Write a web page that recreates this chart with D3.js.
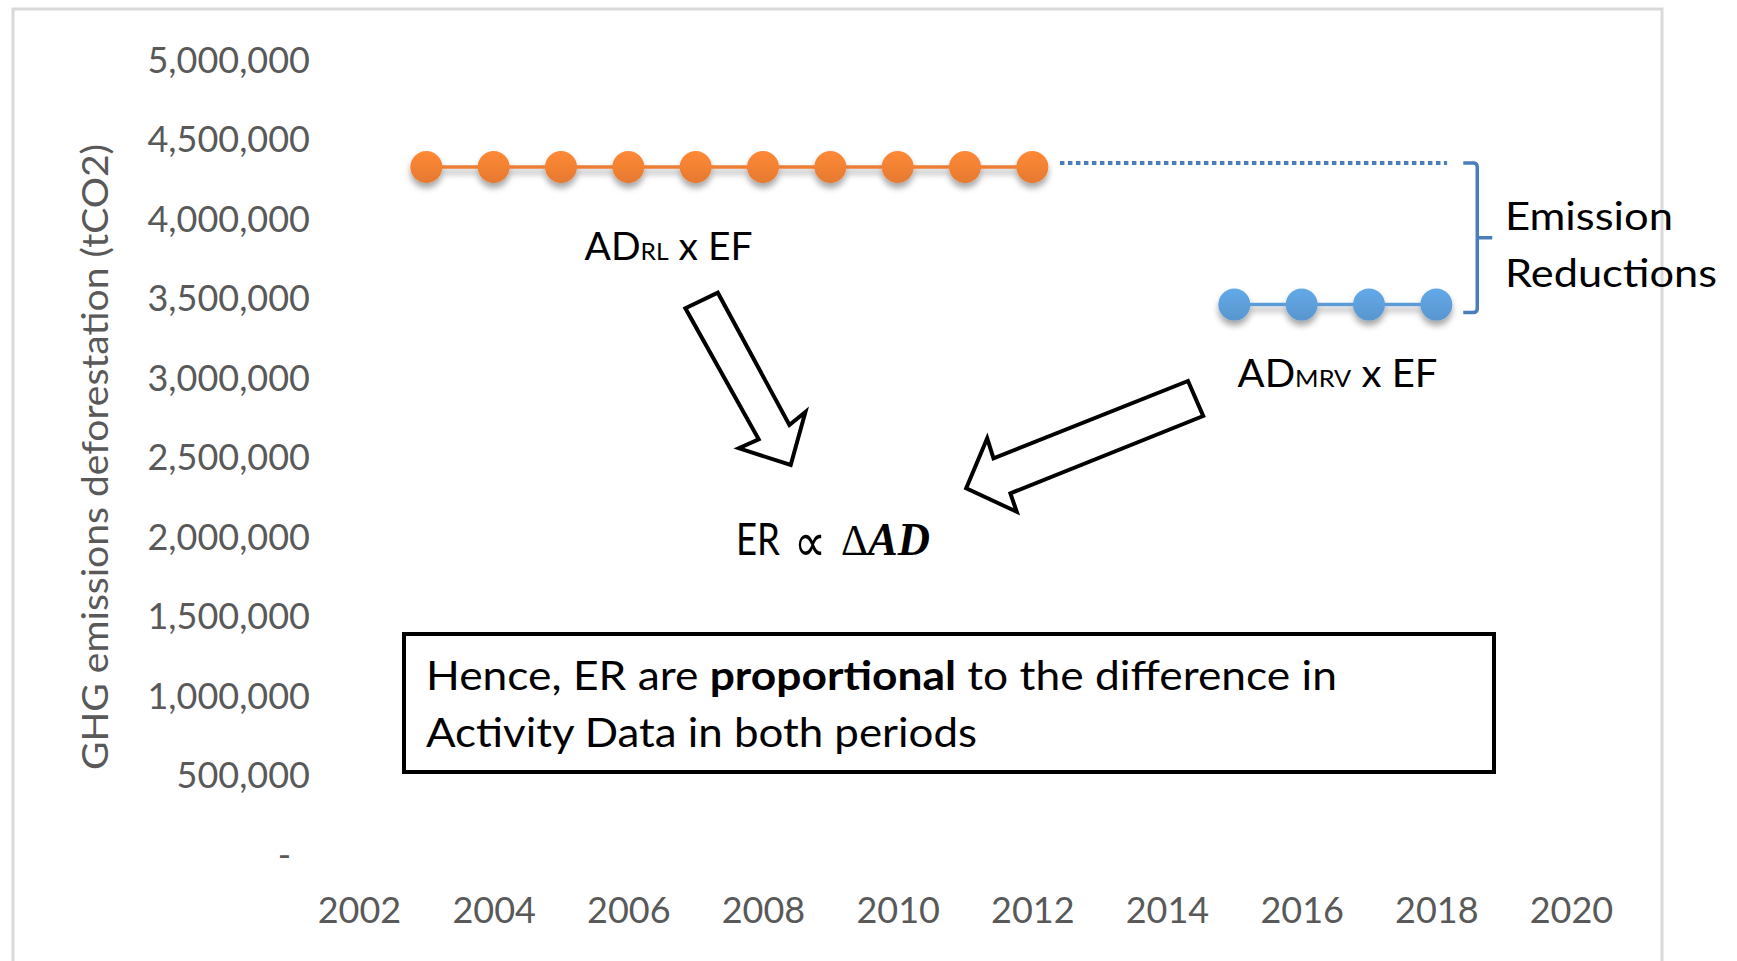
<!DOCTYPE html>
<html><head><meta charset="utf-8">
<script src="https://cdn.jsdelivr.net/npm/d3@7"></script>
<style>body{margin:0;background:#fff;} svg{display:block;}</style>
</head><body><svg id="chart" width="1737" height="961"></svg>
<script>
// ---- data ----
const xTickYears = [2002, 2004, 2006, 2008, 2010, 2012, 2014, 2016, 2018, 2020];
const yTickValues = [0, 500000, 1000000, 1500000, 2000000, 2500000, 3000000, 3500000, 4000000, 4500000, 5000000];
const rlYears = [2003, 2004, 2005, 2006, 2007, 2008, 2009, 2010, 2011, 2012];
const rlValues = [4330000, 4330000, 4330000, 4330000, 4330000, 4330000, 4330000, 4330000, 4330000, 4330000];
const mrvYears = [2015, 2016, 2017, 2018];
const mrvValues = [3465000, 3465000, 3465000, 3465000];
const yAxisTitle = "GHG emissions deforestation (tCO2)";
const boxLine1 = ["Hence, ER are ", "proportional", " to the difference in"];
const boxLine2 = "Activity Data in both periods";

// ---- setup ----
const svg = d3.select("#chart");
const W = 1737, H = 961;
const x = d3.scaleLinear().domain([2002, 2020]).range([359, 1571]);
const y = d3.scaleLinear().domain([0, 5000000]).range([855.5, 60.5]);
const FONT = "Lato, 'Open Sans', sans-serif";
const GRAY = "#595959";
const ORANGE = "#ED7D31", BLUE = "#5B9BD5", BRACE = "#4A7EBB";

const defs = svg.append("defs");
const f = defs.append("filter").attr("id", "shadow").attr("x", "-50%").attr("y", "-50%").attr("width", "200%").attr("height", "200%");
f.append("feDropShadow").attr("dx", 0).attr("dy", 5).attr("stdDeviation", 3).attr("flood-color", "#000").attr("flood-opacity", 0.35);
function grad(id, c) {
  const g = defs.append("linearGradient").attr("id", id).attr("x1", 0).attr("y1", 0).attr("x2", 0).attr("y2", 1);
  g.append("stop").attr("offset", "0%").attr("stop-color", d3.color(c).brighter(0.25));
  g.append("stop").attr("offset", "100%").attr("stop-color", d3.color(c).darker(0.1));
}
grad("gO", ORANGE); grad("gB", BLUE);

// background + outer border
svg.append("rect").attr("width", W).attr("height", H).attr("fill", "#fff");
svg.append("rect").attr("x", 13).attr("y", 9).attr("width", 1649).attr("height", 1000)
  .attr("fill", "none").attr("stroke", "#D9D9D9").attr("stroke-width", 3);

// ---- axes ----
const yAxis = d3.axisLeft(y).tickValues(yTickValues).tickSize(0).tickPadding(49)
  .tickFormat(d => d === 0 ? "-" : d3.format(",")(d));
const gy = svg.append("g").attr("transform", `translate(${x(2002)},0)`).call(yAxis);
gy.select(".domain").remove();
gy.selectAll("text").attr("font-family", FONT).attr("font-size", 36).attr("fill", GRAY)
  .attr("dx", d => d === 0 ? -19 : 0);

const xAxis = d3.axisBottom(x).tickValues(xTickYears).tickSize(0).tickPadding(42).tickFormat(d3.format("d"));
const gx = svg.append("g").attr("transform", `translate(0,${y(0)})`).call(xAxis);
gx.select(".domain").remove();
gx.selectAll("text").attr("font-family", FONT).attr("font-size", 36).attr("fill", GRAY);

svg.append("text").attr("transform", "translate(108,457) rotate(-90)")
  .attr("text-anchor", "middle").attr("font-family", FONT).attr("font-size", 37).attr("fill", GRAY)
  .attr("textLength", 626).attr("lengthAdjust", "spacingAndGlyphs").text(yAxisTitle);

// ---- series ----
function series(years, vals, color, gid) {
  const data = years.map((yr, i) => ({ yr, v: vals[i] }));
  const g = svg.append("g").attr("filter", "url(#shadow)");
  g.append("path").datum(data).attr("fill", "none").attr("stroke", color).attr("stroke-width", 3.5)
    .attr("d", d3.line().x(d => x(d.yr)).y(d => y(d.v)));
  g.selectAll("circle").data(data).join("circle")
    .attr("cx", d => x(d.yr)).attr("cy", d => y(d.v)).attr("r", 16).attr("fill", `url(#${gid})`);
}
series(rlYears, rlValues, ORANGE, "gO");
series(mrvYears, mrvValues, BLUE, "gB");

// ---- annotations ----
const rlLevel = y(rlValues[0]) - 4;
const mrvLevel = y(mrvValues[0]);
svg.append("line").attr("x1", x(2012.41)).attr("x2", x(2018.16)).attr("y1", rlLevel).attr("y2", rlLevel)
  .attr("stroke", BRACE).attr("stroke-width", 4).attr("stroke-dasharray", "4.5 3.5");

const bx0 = x(2018.4), bx1 = bx0 + 14, btop = rlLevel, bbot = mrvLevel + 8, bmid = (btop + bbot) / 2;
svg.append("path").attr("fill", "none").attr("stroke", BRACE).attr("stroke-width", 3.5).attr("stroke-linejoin", "round")
  .attr("d", `M${bx0},${btop} H${bx1 - 4} Q${bx1},${btop} ${bx1},${btop + 4} V${bbot - 4} Q${bx1},${bbot} ${bx1 - 4},${bbot} H${bx0} M${bx1},${bmid} H${bx1 + 15}`);

function label(tx, ty, parts, len, size) {
  const t = svg.append("text").attr("x", tx).attr("y", ty).attr("font-family", FONT).attr("fill", "#000")
    .attr("font-size", size);
  if (len) t.attr("textLength", len).attr("lengthAdjust", "spacingAndGlyphs");
  parts.forEach(p => t.append("tspan").attr("font-size", p.s || size).attr("font-weight", p.b ? "bold" : null).text(p.t));
  return t;
}
label(1505, 230, [{ t: "Emission" }], 168, 39);
label(1505, 287, [{ t: "Reductions" }], 212, 39);
label(584.5, 259.5, [{ t: "AD" }, { t: "RL", s: 24 }, { t: " x EF" }], 168, 38);
label(1237.5, 386.7, [{ t: "AD" }, { t: "MRV", s: 24 }, { t: " x EF" }], 200, 38);

// block arrows
const arrow1 = [[685.4, 308.3], [717.8, 292.7], [789.4, 425], [805.4, 412], [790.7, 465], [738.9, 448.3], [758.7, 439.3]];
const arrow2 = [[1188, 381], [1203.2, 416], [1010.4, 493.3], [1016.7, 511.7], [966.2, 488.3], [987.2, 438.3], [993.5, 458.3]];
[arrow1, arrow2].forEach(a => svg.append("polygon").attr("points", a.map(p => p.join(",")).join(" "))
  .attr("fill", "#fff").attr("stroke", "#000").attr("stroke-width", 4).attr("stroke-linejoin", "miter"));

// ER ∝ ΔAD
svg.append("text").attr("x", 736).attr("y", 555).attr("font-family", FONT).attr("font-size", 44)
  .attr("textLength", 44).attr("lengthAdjust", "spacingAndGlyphs").text("ER");
svg.append("text").attr("x", 794).attr("y", 561).attr("font-family", "'DejaVu Sans', sans-serif").attr("font-size", 54)
  .attr("textLength", 32).attr("lengthAdjust", "spacingAndGlyphs").text("∝");
svg.append("text").attr("x", 841).attr("y", 555).attr("font-family", "'Liberation Serif', serif").attr("font-size", 44)
  .attr("textLength", 27).attr("lengthAdjust", "spacingAndGlyphs").text("Δ");
svg.append("text").attr("x", 868).attr("y", 555).attr("font-family", "'Liberation Serif', serif").attr("font-size", 46)
  .attr("font-weight", "bold").attr("font-style", "italic")
  .attr("textLength", 62).attr("lengthAdjust", "spacingAndGlyphs").text("AD");

// text box
svg.append("rect").attr("x", 404).attr("y", 634).attr("width", 1090).attr("height", 138)
  .attr("fill", "#fff").attr("stroke", "#000").attr("stroke-width", 4);
label(426, 690, [{ t: boxLine1[0] }, { t: boxLine1[1], b: true }, { t: boxLine1[2] }], 911, 40);
label(426, 746.5, [{ t: boxLine2 }], 551, 40);
</script></body></html>
